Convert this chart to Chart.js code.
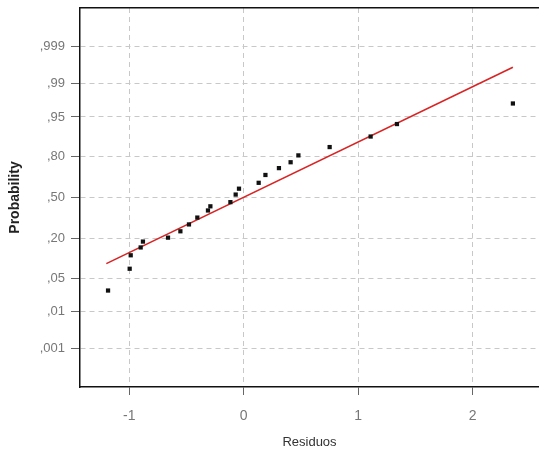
<!DOCTYPE html>
<html>
<head>
<meta charset="utf-8">
<script src="https://cdn.jsdelivr.net/npm/chart.js@4.4.1/dist/chart.umd.min.js"></script>
<style>
  html, body { margin: 0; padding: 0; background: #fff; }
  #wrap { width: 539px; height: 451px; }
</style>
</head>
<body>
<div id="wrap"><canvas id="probChart" width="539" height="451"></canvas></div>
<script>
'use strict';

// residuals (x) and normal scores (y)
var residuos = [-1.185, -0.996, -0.987, -0.90, -0.88, -0.661, -0.553, -0.478, -0.405, -0.312, -0.291,
                -0.116, -0.07, -0.041, 0.131, 0.19, 0.308, 0.41, 0.478, 0.751, 1.109, 1.339, 2.352];
var scores = [-1.90, -1.455, -1.18, -1.02, -0.90, -0.82, -0.69, -0.55, -0.41, -0.265, -0.18,
              -0.095, 0.06, 0.18, 0.30, 0.46, 0.60, 0.72, 0.86, 1.03, 1.245, 1.50, 1.92];

// fitted line, ends
var fitX = [-1.2, 2.352];
var fitY = [-1.35, 2.66];

// probability axis
var probValues = [0.001, 0.01, 0.05, 0.20, 0.50, 0.80, 0.95, 0.99, 0.999];
var probLabels = [',001', ',01', ',05', ',20', ',50', ',80', ',95', ',99', ',999'];
var xTicks = [-1, 0, 1, 2];

// inverse normal cdf (Acklam)
function normInv(p) {
  var a = [-39.6968302866538, 220.946098424521, -275.928510446969, 138.357751867269, -30.6647980661472, 2.50662827745924];
  var b = [-54.4760987982241, 161.585836858041, -155.698979859887, 66.8013118877197, -13.2806815528857];
  var c = [-0.00778489400243029, -0.322396458041136, -2.40075827716184, -2.54973253934373, 4.37466414146497, 2.93816398269878];
  var d = [0.00778469570904146, 0.32246712907004, 2.445134137143, 3.75440866190742];
  var q, r;
  if (p < 0.02425) {
    q = Math.sqrt(-2 * Math.log(p));
    return (((((c[0]*q+c[1])*q+c[2])*q+c[3])*q+c[4])*q+c[5]) / ((((d[0]*q+d[1])*q+d[2])*q+d[3])*q+1);
  }
  if (p > 1 - 0.02425) {
    q = Math.sqrt(-2 * Math.log(1 - p));
    return -(((((c[0]*q+c[1])*q+c[2])*q+c[3])*q+c[4])*q+c[5]) / ((((d[0]*q+d[1])*q+d[2])*q+d[3])*q+1);
  }
  q = p - 0.5; r = q * q;
  return (((((a[0]*r+a[1])*r+a[2])*r+a[3])*r+a[4])*r+a[5])*q / (((((b[0]*r+b[1])*r+b[2])*r+b[3])*r+b[4])*r+1);
}
var probZ = probValues.map(normInv);

var points = residuos.map(function(x, i) { return {x: x, y: scores[i]}; });
var fitLine = fitX.map(function(x, i) { return {x: x, y: fitY[i]}; });

var gridCol = '#c8c8c8';
var tickFont = {family: "'Liberation Sans', Arial, sans-serif", size: 13};

new Chart(document.getElementById('probChart'), {
  type: 'scatter',
  data: {
    datasets: [{
      type: 'line',
      data: fitLine,
      borderColor: '#d82424',
      borderWidth: 1.6,
      pointRadius: 0,
      fill: false,
      order: 2
    }, {
      data: points,
      pointStyle: 'rect',
      pointRadius: 3,
      backgroundColor: '#111',
      borderColor: '#111',
      borderWidth: 0,
      order: 1
    }]
  },
  options: {
    responsive: false,
    animation: false,
    layout: {autoPadding: false, padding: {top: 8, right: 0, left: 0, bottom: 0}},
    plugins: {legend: {display: false}, tooltip: {enabled: false}},
    scales: {
      x: {
        type: 'linear',
        min: -1.43,
        max: 2.58,
        afterBuildTicks: function(scale) {
          scale.ticks = xTicks.map(function(v) { return {value: v}; });
        },
        afterFit: function(scale) {
          scale.height = 64;
          scale.paddingLeft = 0;
          scale.paddingRight = 0;
        },
        grid: {
          color: gridCol,
          tickLength: 8,
          tickColor: '#666',
          tickBorderDash: []
        },
        border: {display: true, color: '#111', width: 1.5, dash: [5, 4]},
        ticks: {color: '#777', font: {family: "'Liberation Sans', Arial, sans-serif", size: 14}, padding: 13},
        title: {
          display: true,
          text: 'Residuos',
          color: '#333',
          font: {family: "'Liberation Sans', Arial, sans-serif", size: 13},
          padding: {top: 0, bottom: 1}
        }
      },
      xTop: {
        type: 'linear',
        position: 'top',
        min: -1.43,
        max: 2.58,
        afterFit: function(scale) {
          scale.height = 0;
          scale.paddingLeft = 0;
          scale.paddingRight = 0;
        },
        grid: {display: false},
        border: {display: true, color: '#111', width: 1.5},
        ticks: {display: false}
      },
      y: {
        type: 'linear',
        min: -3.87,
        max: 3.87,
        afterBuildTicks: function(scale) {
          scale.ticks = probZ.map(function(v) { return {value: v}; });
        },
        afterFit: function(scale) {
          scale.width = 80;
          scale.paddingTop = 0;
          scale.paddingBottom = 0;
        },
        grid: {
          color: gridCol,
          tickLength: 9,
          tickColor: '#666',
          tickBorderDash: []
        },
        border: {display: true, color: '#111', width: 1.5, dash: [5, 4]},
        ticks: {
          color: '#777',
          font: tickFont,
          padding: 6,
          callback: function(value) {
            for (var i = 0; i < probZ.length; i++) {
              if (Math.abs(probZ[i] - value) < 1e-6) return probLabels[i];
            }
            return '';
          }
        },
        title: {
          display: true,
          text: 'Probability',
          color: '#222',
          font: {family: "'Liberation Sans', Arial, sans-serif", size: 14, weight: 'bold'},
          padding: {top: 7, bottom: 0}
        }
      }
    }
  }
});
</script>
</body>
</html>
